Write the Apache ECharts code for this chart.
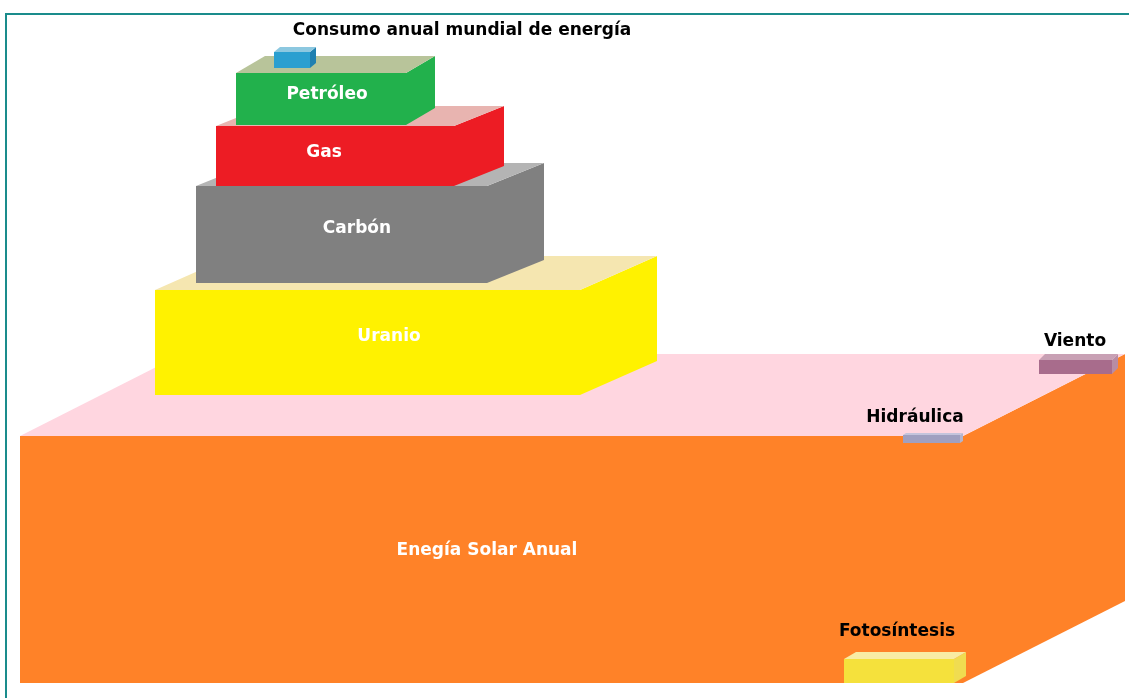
<!DOCTYPE html>
<html>
<head>
<meta charset="utf-8">
<style>
  html, body { margin: 0; padding: 0; background: #fff; }
  #main { width: 1129px; height: 698px; }
</style>
<script src="https://cdn.jsdelivr.net/npm/echarts@6/dist/echarts.min.js"></script>
</head>
<body>
<div id="main"></div>
<script>
// bloques: extremos de la cara frontal y profundidad (unidades del eje)
var blockNames = ['Energía Solar Anual', 'Viento', 'Hidráulica', 'Fotosíntesis', 'Uranio', 'Carbón', 'Gas', 'Petróleo', 'Consumo'];
var blockLeft = [20, 1039, 903, 844, 155, 196, 216, 236, 274];
var blockRight = [963, 1112, 960, 954, 580, 487, 454, 406, 310];
var blockTop = [436, 360, 435, 659, 290, 186, 126, 73, 52];
var blockBottom = [683, 374, 443, 683, 395, 283, 186, 125, 68];
var depthX = [162, 6, 3, 12, 77, 57, 50, 29, 6];
var depthY = [82, 6, 2, 7, 34, 23, 20, 17, 5];

// etiquetas
var labelText = ['Consumo anual mundial de energía', 'Petróleo', 'Gas', 'Carbón', 'Uranio', 'Enegía Solar Anual', 'Viento', 'Hidráulica', 'Fotosíntesis'];
var labelX = [462, 327, 324, 357, 389, 487, 1075, 915, 897];
var labelY = [31, 95, 153, 229, 337, 551, 342, 418, 632];
var labelInside = [false, true, true, true, true, true, false, false, false];

// colores: frente, arriba, lado
var palette = [
  ['#ff8228', '#ffd6e0', '#ff8228'],
  ['#a86c8c', '#c8a0b4', '#b88ca4'],
  ['#a0a0c0', '#c4c4dc', '#b4b4cc'],
  ['#f5e13c', '#f8eca4', '#f0dc50'],
  ['#fff200', '#f5e6b0', '#fff200'],
  ['#808080', '#b4b4b4', '#808080'],
  ['#ed1c24', '#e8b4b0', '#ed1c24'],
  ['#22b14c', '#b8c49a', '#22b14c'],
  ['#2a9fd0', '#8cc8e0', '#2080b0']
];

var blockData = blockNames.map(function (n, i) {
  return { name: n, value: [blockLeft[i], blockRight[i], blockTop[i], blockBottom[i], depthX[i], depthY[i]] };
});
var labelData = labelText.map(function (t, i) {
  return { name: t, value: [labelX[i], labelY[i]] };
});

function renderBlock(params, api) {
  var L = api.value(0), R = api.value(1), T = api.value(2), B = api.value(3);
  var dx = api.value(4), dy = api.value(5);
  var c = palette[params.dataIndex];
  var p = function (x, y) { return api.coord([x, y]); };
  return {
    type: 'group',
    children: [
      { type: 'polygon', shape: { points: [p(R, T), p(R + dx, T - dy), p(R + dx, B - dy), p(R, B)] }, style: { fill: c[2] } },
      { type: 'polygon', shape: { points: [p(L, T), p(L + dx, T - dy), p(R + dx, T - dy), p(R, T)] }, style: { fill: c[1] } },
      { type: 'polygon', shape: { points: [p(L, T), p(R, T), p(R, B), p(L, B)] }, style: { fill: c[0] } }
    ]
  };
}

function renderLabel(params, api) {
  var pt = api.coord([api.value(0), api.value(1)]);
  var inside = labelInside[params.dataIndex];
  return {
    type: 'text',
    x: pt[0],
    y: pt[1],
    style: {
      text: labelText[params.dataIndex],
      fill: inside ? '#ffffff' : '#000000',
      font: 'bold 17px "DejaVu Sans"',
      align: 'center',
      verticalAlign: 'middle'
    }
  };
}

var option = {
  backgroundColor: '#ffffff',
  animation: false,
  grid: { left: 0, right: 0, top: 0, bottom: 0 },
  xAxis: { type: 'value', min: 0, max: 1129, show: false },
  yAxis: { type: 'value', min: 0, max: 698, inverse: true, show: false },
  graphic: [
    { type: 'line', shape: { x1: 5, y1: 14, x2: 1129, y2: 14 }, style: { stroke: '#1a8c8c', lineWidth: 2 } },
    { type: 'line', shape: { x1: 6, y1: 14, x2: 6, y2: 698 }, style: { stroke: '#1a8c8c', lineWidth: 2 } }
  ],
  series: [
    {
      type: 'custom',
      renderItem: renderBlock,
      data: blockData,
      encode: { x: [0, 1], y: [2, 3] },
      silent: true
    },
    {
      type: 'custom',
      renderItem: renderLabel,
      data: labelData,
      encode: { x: 0, y: 1 },
      silent: true,
      z: 5
    }
  ]
};

var myChart = echarts.init(document.getElementById('main'));
myChart.setOption(option);
</script>
</body>
</html>
